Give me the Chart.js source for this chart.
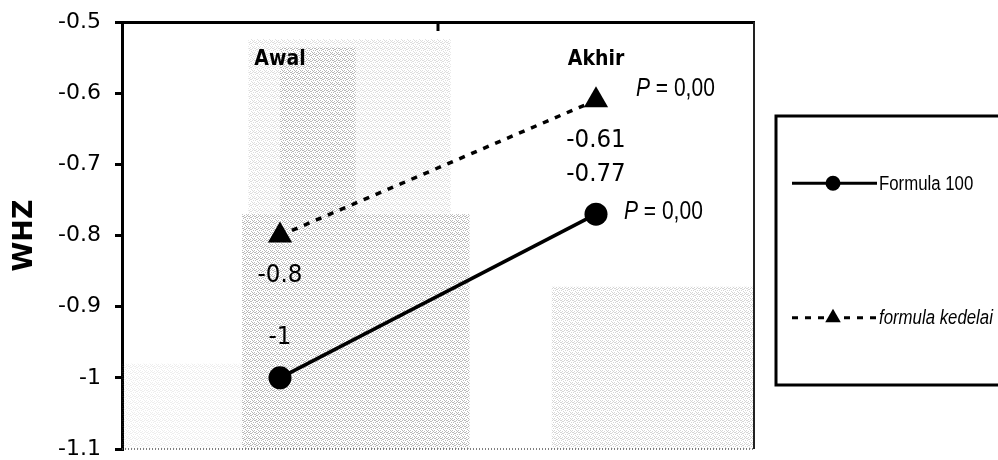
<!DOCTYPE html>
<html>
<head>
<meta charset="utf-8">
<script src="https://cdn.jsdelivr.net/npm/chart.js@4.4.1/dist/chart.umd.min.js"></script>
<style>
  html, body { margin: 0; padding: 0; background: #ffffff; }
  #wrap { width: 998px; height: 460px; position: relative; }
</style>
</head>
<body>
<div id="wrap"><canvas id="c" width="998" height="460"></canvas></div>
<script>
// Measurement times and WHZ means for each formula group
const categories = ['Awal', 'Akhir'];
const formula100 = [-1, -0.77];
const formulaKedelai = [-0.8, -0.61];
const seriesNames = ['Formula 100', 'formula kedelai'];
// significance note shown beside the final point of each series
const pNotes = [['', 'P = 0,00'], ['', 'P = 0,00']];
const yTickLabels = ['-1.1', '-1', '-0.9', '-0.8', '-0.7', '-0.6', '-0.5'];
const yTitle = 'WHZ';

const NUM_FONT = '"DejaVu Sans", Verdana, sans-serif';
const ARIAL = '"Liberation Sans", Arial, sans-serif';

// halftone grain used for the shaded scan band behind the lines
function makeGrain() {
  const c = document.createElement('canvas');
  c.width = 6; c.height = 6;
  const g = c.getContext('2d');
  g.fillStyle = '#8a8a8a';
  const dots = [[0,0],[2,0],[4,1],[1,2],[3,2],[5,3],[0,4],[2,4],[4,5],[1,5],[3,0],[5,1]];
  dots.forEach(([x, y]) => g.fillRect(x, y, 1, 1));
  return c;
}

// text squeezed horizontally to imitate a condensed face
function fillScaled(ctx, text, x, y, sx, align) {
  ctx.save();
  ctx.translate(x, y);
  ctx.scale(sx, 1);
  ctx.textAlign = align;
  ctx.fillText(text, 0, 0);
  const w = ctx.measureText(text).width * sx;
  ctx.restore();
  return w;
}

function drawPointShape(ctx, style, x, y, r) {
  ctx.beginPath();
  if (style === 'triangle') {
    const h = r * 1.5, w = r * Math.sqrt(3);
    ctx.moveTo(x, y - r);
    ctx.lineTo(x + w / 2, y + h - r);
    ctx.lineTo(x - w / 2, y + h - r);
    ctx.closePath();
  } else {
    ctx.arc(x, y, r, 0, Math.PI * 2);
  }
  ctx.fill();
}

const decor = {
  id: 'decor',
  beforeDatasetsDraw(chart) {
    const { ctx, chartArea: a } = chart;
    const w = a.right - a.left, h = a.bottom - a.top;
    const pat = ctx.createPattern(makeGrain(), 'repeat');
    ctx.save();
    ctx.fillStyle = pat;
    const zones = [
      [0.20, 0.04, 0.52, 0.45, 0.28],
      [0.25, 0.06, 0.37, 0.45, 0.45],
      [0.19, 0.45, 0.55, 1.00, 0.6],
      [0.68, 0.62, 1.00, 1.00, 0.35],
      [0.00, 0.80, 0.19, 1.00, 0.15]
    ];
    zones.forEach(([x0, y0, x1, y1, al]) => {
      ctx.globalAlpha = al;
      ctx.fillRect(a.left + x0 * w, a.top + y0 * h, (x1 - x0) * w, (y1 - y0) * h);
    });
    ctx.restore();
  },
  afterDatasetsDraw(chart) {
    const { ctx, chartArea: a, scales } = chart;
    const xs = scales.x;
    ctx.save();

    // frame: right edge thin, bottom edge dotted
    ctx.strokeStyle = '#222';
    ctx.lineWidth = 2;
    ctx.beginPath();
    ctx.moveTo(a.right, a.top);
    ctx.lineTo(a.right, a.bottom);
    ctx.stroke();
    ctx.setLineDash([1, 2]);
    ctx.lineWidth = 1.5;
    ctx.strokeStyle = '#555';
    ctx.beginPath();
    ctx.moveTo(a.left, a.bottom);
    ctx.lineTo(a.right, a.bottom);
    ctx.stroke();
    ctx.setLineDash([]);

    // category divider tick hanging from the top axis
    const mid = (xs.getPixelForValue(0) + xs.getPixelForValue(1)) / 2;
    ctx.strokeStyle = '#000';
    ctx.lineWidth = 3;
    ctx.beginPath();
    ctx.moveTo(mid, a.top);
    ctx.lineTo(mid, a.top + 9);
    ctx.stroke();

    // category names inside the plot
    ctx.fillStyle = '#000';
    ctx.textBaseline = 'middle';
    ctx.font = 'bold 21px ' + NUM_FONT;
    categories.forEach((c, i) => fillScaled(ctx, c, xs.getPixelForValue(i), a.top + 38, 0.9, 'center'));

    // value labels: circles above, triangles below
    ctx.font = '25px ' + NUM_FONT;
    chart.data.datasets.forEach((ds, di) => {
      const meta = chart.getDatasetMeta(di);
      meta.data.forEach((pt, i) => {
        const dy = di === 0 ? -40 : 40;
        fillScaled(ctx, String(ds.data[i]), pt.x, pt.y + dy, 0.92, 'center');
      });
    });

    // P notes beside final points
    chart.data.datasets.forEach((ds, di) => {
      const meta = chart.getDatasetMeta(di);
      meta.data.forEach((pt, i) => {
        const note = pNotes[di][i];
        if (!note) return;
        const x = pt.x + (di === 0 ? 28 : 40);
        const y = pt.y + (di === 0 ? -2 : -11);
        ctx.font = 'italic 25px ' + ARIAL;
        const pw = fillScaled(ctx, note.charAt(0), x, y, 0.84, 'left');
        ctx.font = '25px ' + ARIAL;
        fillScaled(ctx, note.slice(1), x + pw, y, 0.84, 'left');
      });
    });

    // legend box
    const box = { left: 776, top: 116, right: 1001, bottom: 385 };
    ctx.strokeStyle = '#000';
    ctx.lineWidth = 3;
    ctx.strokeRect(box.left, box.top, box.right - box.left, box.bottom - box.top);
    const bh = box.bottom - box.top;
    chart.data.datasets.forEach((ds, di) => {
      const y = box.top + bh * (di === 0 ? 0.25 : 0.75);
      const x0 = box.left + 16, x1 = box.left + 101, xm = box.left + 57;
      ctx.strokeStyle = '#000';
      ctx.lineWidth = 3;
      ctx.setLineDash(ds.borderDash || []);
      ctx.beginPath();
      ctx.moveTo(x0, y);
      ctx.lineTo(x1, y);
      ctx.stroke();
      ctx.setLineDash([]);
      ctx.fillStyle = '#000';
      drawPointShape(ctx, ds.pointStyle, xm, y, ds.pointStyle === 'triangle' ? 9 : 7.5);
      ctx.font = (di === 1 ? 'italic ' : '') + '20px ' + ARIAL;
      fillScaled(ctx, ds.label, x1 + 2, y + 1, 0.84, 'left');
    });

    ctx.restore();
  }
};

new Chart(document.getElementById('c'), {
  type: 'line',
  data: {
    labels: categories,
    datasets: [
      {
        label: seriesNames[0],
        data: formula100,
        borderColor: '#000',
        backgroundColor: '#000',
        borderWidth: 3.5,
        pointStyle: 'circle',
        pointRadius: 11.5,
        pointBorderWidth: 0,
        pointBackgroundColor: '#000',
        tension: 0
      },
      {
        label: seriesNames[1],
        data: formulaKedelai,
        borderColor: '#000',
        backgroundColor: '#000',
        borderWidth: 3.5,
        borderDash: [6, 7],
        pointStyle: 'triangle',
        pointRadius: 14,
        pointBorderWidth: 0,
        pointBackgroundColor: '#000',
        tension: 0
      }
    ]
  },
  options: {
    responsive: false,
    animation: false,
    devicePixelRatio: 1,
    layout: { autoPadding: false, padding: { top: 22, bottom: 11, right: 244, left: 0 } },
    plugins: { legend: { display: false }, tooltip: { enabled: false } },
    scales: {
      x: {
        type: 'category',
        position: 'top',
        offset: true,
        ticks: { display: false },
        grid: { display: false, drawTicks: false },
        border: { display: true, color: '#000', width: 3 },
        afterFit(s) { s.height = 0; s.paddingLeft = 0; s.paddingRight = 0; }
      },
      y: {
        min: -1.1,
        max: -0.5,
        ticks: {
          stepSize: 0.1,
          padding: 14,
          color: '#000',
          font: { family: NUM_FONT, size: 22 },
          callback: (v, i) => yTickLabels[i]
        },
        grid: { drawOnChartArea: false, drawTicks: true, tickLength: 7, color: '#000', lineWidth: 3 },
        border: { display: true, color: '#000', width: 3 },
        title: {
          display: true,
          text: yTitle,
          color: '#000',
          font: { family: NUM_FONT, size: 27, weight: 'bold' },
          padding: { top: 9, bottom: 0 }
        },
        afterFit(s) { s.width = 122; s.paddingTop = 0; s.paddingBottom = 0; }
      }
    }
  },
  plugins: [decor]
});
</script>
</body>
</html>
